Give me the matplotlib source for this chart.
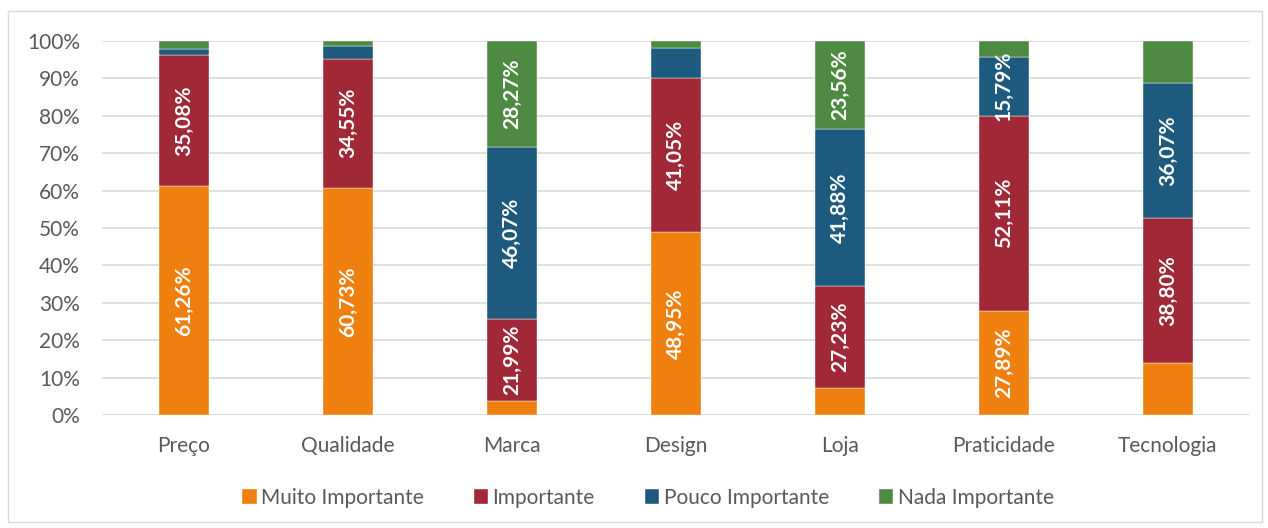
import matplotlib
matplotlib.use("Agg")
import matplotlib.pyplot as plt
from matplotlib.patches import Rectangle
from matplotlib.ticker import PercentFormatter

categories = ["Preço", "Qualidade", "Marca", "Design", "Loja", "Praticidade", "Tecnologia"]
series_names = ["Muito Importante", "Importante", "Pouco Importante", "Nada Importante"]

muito_importante = [61.26, 60.73, 3.67, 48.95, 7.33, 27.89, 13.88]
importante = [35.08, 34.55, 21.99, 41.05, 27.23, 52.11, 38.80]
pouco_importante = [1.57, 3.40, 46.07, 8.16, 41.88, 15.79, 36.07]
nada_importante = [2.09, 1.32, 28.27, 1.84, 23.56, 4.21, 11.25]

colors = ["#EF7F0E", "#A02837", "#1D5A7D", "#4E8A42"]
text_gray = "#595959"
grid_gray = "#D9D9D9"

plt.rcParams["font.family"] = ["Lato", "DejaVu Sans"]

fig = plt.figure(figsize=(12.68, 5.28), dpi=100)
ax = fig.add_axes([102 / 1268, 1 - 415 / 528, 1148 / 1268, 374 / 528])

# outer chart frame
fig.patches.append(Rectangle((8 / 1268, 6 / 528), 1254 / 1268, 511 / 528,
                             transform=fig.transFigure, fill=False,
                             edgecolor=grid_gray, linewidth=1))

x = range(len(categories))
bottom = [0.0] * len(categories)
for name, values, color in zip(series_names,
                               [muito_importante, importante, pouco_importante, nada_importante],
                               colors):
    ax.bar(x, values, width=0.31, bottom=bottom, color=color, label=name,
           edgecolor="white", linewidth=0.3, zorder=3)
    for i, v in enumerate(values):
        if v >= 15:
            label = f"{v:.2f}%".replace(".", ",")
            ax.text(i, bottom[i] + v / 2, label, rotation=90, ha="center", va="center",
                    color="white", fontsize=15, fontweight="bold", zorder=4)
    bottom = [b + v for b, v in zip(bottom, values)]

ax.set_xlim(-0.5, len(categories) - 0.5)
ax.set_ylim(0, 100)
ax.set_yticks(range(0, 101, 10))
ax.yaxis.set_major_formatter(PercentFormatter(decimals=0))
ax.set_xticks(list(x))
ax.set_xticklabels(categories)
ax.tick_params(axis="both", length=0, labelsize=15, colors=text_gray)
ax.tick_params(axis="x", pad=15)
ax.tick_params(axis="y", pad=16)
ax.yaxis.grid(True, color=grid_gray, linewidth=1.2, zorder=0)
for spine in ax.spines.values():
    spine.set_visible(False)
ax.axhline(0, color=grid_gray, linewidth=1.2, zorder=1)

fig.legend(loc="center", bbox_to_anchor=(648 / 1268, 1 - 498 / 528), ncol=4,
           frameon=False, fontsize=15, handlelength=0.7, handleheight=0.7,
           handletextpad=0.2, columnspacing=2.4, labelcolor=text_gray)

fig.savefig("out.png", dpi=100)
plt.close(fig)
